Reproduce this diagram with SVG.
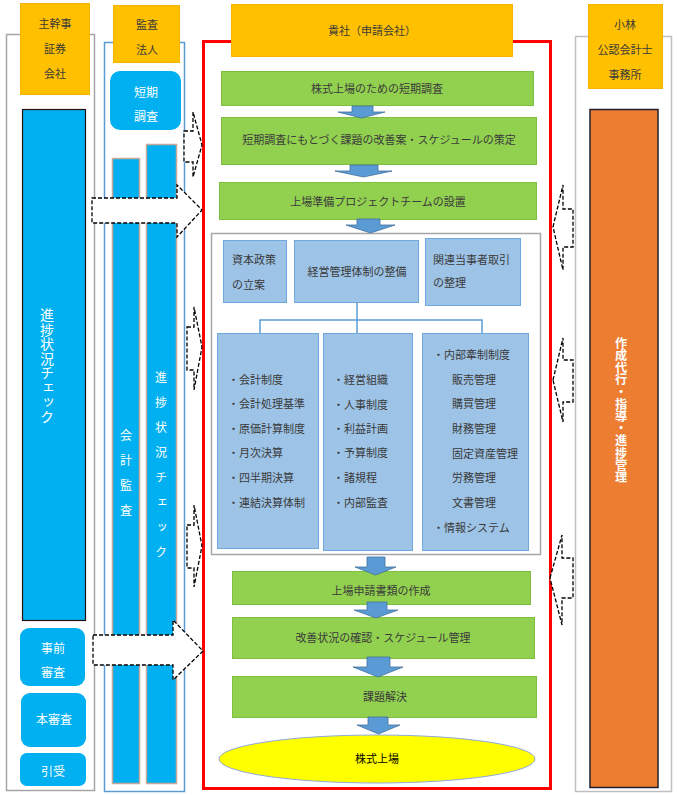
<svg xmlns="http://www.w3.org/2000/svg" width="678" height="795" viewBox="0 0 678 795">
<style>
text{font-family:"Noto Sans CJK JP","Noto Sans",sans-serif;font-size:11px;fill:#3a3a3a}
.c{text-anchor:middle}
.w{fill:#ffffff}
.vt{writing-mode:vertical-rl;text-orientation:mixed}
.hdr{fill:#ffc000;stroke:#f4b400;stroke-width:1}
.blue{fill:#00b0f0}
.grn{fill:#92d050;stroke:#7fbf3f;stroke-width:1}
.lb{fill:#9dc3e6;stroke:#6fa8dc;stroke-width:1}
.bar{fill:#00b0f0;stroke:#c9a79b;stroke-width:1.5}
.dash{fill:#ffffff;stroke:#000000;stroke-width:1.3;stroke-dasharray:4 2}
.dn{fill:#5b9bd5;stroke:#41719c;stroke-width:0.8}
.v12{font-size:12px}
.v14{font-size:14px}
.vb{font-size:12.2px;font-weight:bold}
</style>
<rect width="678" height="795" fill="#ffffff"/>

<!-- Left column: 主幹事証券会社 -->
<g id="col-left">
<rect x="6.5" y="34.5" width="88" height="756" fill="#ffffff" stroke="#a6a6a6" stroke-width="1.5"/>
<rect class="hdr" x="20.5" y="3.5" width="69" height="91"/>
<text class="c" x="55" y="28">主幹事</text>
<text class="c" x="55" y="53">証券</text>
<text class="c" x="55" y="78">会社</text>
</g>
<g id="left-check">
<rect x="22.5" y="109.5" width="63" height="511" fill="#00b0f0" stroke="#2a0d0d" stroke-width="1.2"/>
<text class="w vt v14" x="47" y="308" letter-spacing="0.5">進捗状況チェック</text>
</g>
<g id="left-pre">
<rect class="blue" x="20" y="628" width="65" height="58" rx="9"/>
<text class="c w v12" x="53" y="653">事前</text>
<text class="c w v12" x="53" y="677">審査</text>
</g>
<g id="left-main">
<rect class="blue" x="21" y="693" width="65" height="54" rx="9"/>
<text class="c w v12" x="54" y="724">本審査</text>
</g>
<g id="left-under">
<rect class="blue" x="20" y="753" width="66" height="33" rx="7"/>
<text class="c w v12" x="53" y="776">引受</text>
</g>

<!-- Middle column: 監査法人 -->
<g id="col-audit">
<rect x="104.5" y="42.5" width="80" height="749" fill="#ffffff" stroke="#5b9bd5" stroke-width="1.5"/>
<rect class="hdr" x="113.5" y="5.5" width="66" height="57"/>
<text class="c" x="147" y="29">監査</text>
<text class="c" x="147" y="54">法人</text>
</g>
<g id="audit-short">
<rect class="blue" x="110" y="71" width="71" height="59" rx="10"/>
<text class="c w v12" x="146" y="97">短期</text>
<text class="c w v12" x="146" y="121">調査</text>
</g>
<g id="audit-bar1">
<rect class="bar" x="112.5" y="158.5" width="27" height="625"/>
<text class="w vt v12" x="126" y="429" letter-spacing="13">会計監査</text>
</g>
<g id="audit-bar2">
<rect class="bar" x="146.5" y="144.5" width="30" height="639"/>
<text class="w vt v12" x="161" y="371" letter-spacing="13">進捗状況チェック</text>
</g>

<!-- Right column: 小林公認会計士事務所 -->
<g id="col-right">
<rect x="575.5" y="36.5" width="96" height="755" fill="#ffffff" stroke="#bfbfbf" stroke-width="1.5"/>
<rect class="hdr" x="588.5" y="4.5" width="74" height="84"/>
<text class="c" x="625" y="29">小林</text>
<text class="c" x="625" y="54">公認会計士</text>
<text class="c" x="625" y="79">事務所</text>
</g>
<g id="right-bar">
<rect x="590" y="109.5" width="68" height="678" fill="#ed7d31" stroke="#1f1f2e" stroke-width="1.5"/>
<text class="w vt vb" x="621" y="337">作成代行・指導・進捗管理</text>
</g>

<!-- Centre: 貴社（申請会社） -->
<g id="col-company">
<rect x="203.5" y="41.5" width="347" height="747" fill="#ffffff" stroke="#ff0000" stroke-width="3"/>
<rect class="hdr" x="231.5" y="4.5" width="281" height="52"/>
<text class="c" x="372" y="35">貴社（申請会社）</text>
</g>
<g id="step1">
<rect class="grn" x="221.5" y="71.5" width="312" height="34"/>
<text class="c" x="377" y="93">株式上場のための短期調査</text>
</g>
<g id="step2">
<rect class="grn" x="221.5" y="117.5" width="315" height="47"/>
<text class="c" x="379" y="144">短期調査にもとづく課題の改善案・スケジュールの策定</text>
</g>
<g id="step3">
<rect class="grn" x="219.5" y="182.5" width="317" height="37"/>
<text class="c" x="378" y="206">上場準備プロジェクトチームの設置</text>
</g>
<g id="project-box">
<rect x="211.5" y="233.5" width="329" height="321" fill="#ffffff" stroke="#a6a6a6" stroke-width="1.5"/>
</g>
<g id="capital">
<rect class="lb" x="223.5" y="240.5" width="63" height="62"/>
<text x="232" y="264">資本政策</text>
<text x="232" y="289">の立案</text>
</g>
<g id="mgmt">
<rect class="lb" x="294.5" y="240.5" width="124" height="62"/>
<text class="c" x="357" y="276">経営管理体制の整備</text>
</g>
<g id="related">
<rect class="lb" x="425.5" y="238.5" width="95" height="67"/>
<text x="433" y="264">関連当事者取引</text>
<text x="433" y="287">の整理</text>
</g>
<g id="accounting">
<rect class="lb" x="217.5" y="333.5" width="101" height="215"/>
<text x="228" y="384">・会計制度</text>
<text x="228" y="408">・会計処理基準</text>
<text x="228" y="433">・原価計算制度</text>
<text x="228" y="457">・月次決算</text>
<text x="228" y="482">・四半期決算</text>
<text x="228" y="507">・連結決算体制</text>
</g>
<g id="organization">
<rect class="lb" x="323.5" y="333.5" width="89" height="217"/>
<text x="333" y="384">・経営組織</text>
<text x="333" y="409">・人事制度</text>
<text x="333" y="433">・利益計画</text>
<text x="333" y="457">・予算制度</text>
<text x="333" y="482">・諸規程</text>
<text x="333" y="507">・内部監査</text>
</g>
<g id="internal">
<rect class="lb" x="422.5" y="333.5" width="106" height="217"/>
<text x="433" y="359">・内部牽制制度</text>
<text x="452" y="384">販売管理</text>
<text x="452" y="408">購買管理</text>
<text x="452" y="433">財務管理</text>
<text x="452" y="458">固定資産管理</text>
<text x="452" y="482">労務管理</text>
<text x="452" y="507">文書管理</text>
<text x="433" y="532">・情報システム</text>
</g>
<g id="step4">
<rect class="grn" x="232.5" y="571.5" width="298" height="33"/>
<text class="c" x="381" y="595">上場申請書類の作成</text>
</g>
<g id="step5">
<rect class="grn" x="232.5" y="617.5" width="302" height="41"/>
<text class="c" x="383" y="642">改善状況の確認・スケジュール管理</text>
</g>
<g id="step6">
<rect class="grn" x="232.5" y="676.5" width="304" height="41"/>
<text class="c" x="385" y="701">課題解決</text>
</g>
<g id="listing">
<ellipse cx="377" cy="759" rx="158" ry="24" fill="#ffff00" stroke="#8ea9db" stroke-width="1"/>
<text class="c" x="377" y="763" style="fill:#000000">株式上場</text>
</g>

<!-- Connectors -->
<g id="connectors">
<g fill="none" stroke="#5b9bd5" stroke-width="1.5">
<path d="M357 302.5V333M260 333V320H482V333"/>
</g>
<g>
<polygon class="dn" points="352,106 373,106 373,112 385,112 361.5,118 338,112 352,112"/>
<polygon class="dn" points="350,165 378,165 378,171 392,171 363.5,177 335,171 350,171"/>
<polygon class="dn" points="357,219 380,219 380,225 395,225 370.5,233 346,225 357,225"/>
<polygon class="dn" points="367,557 385,557 385,567 396,567 375.5,575 355,567 367,567"/>
<polygon class="dn" points="367,602 387,602 387,610 398,610 376,618 354,610 367,610"/>
<polygon class="dn" points="367,657 390,657 390,667 403,667 378,677 353,667 367,667"/>
<polygon class="dn" points="368,717 388,717 388,725 400,725 378.5,734 357,725 368,725"/>
</g>
<g>
<polygon class="dash" points="184,131 193,131 193,112 202,145 193,177 193,162 184,162"/>
<polygon class="dash" points="92,198 177,198 177,185 202,210 177,237 177,223 92,223"/>
<polygon class="dash" points="187,327 194,327 194,307 202,347 194,390 194,370 187,370"/>
<polygon class="dash" points="187,525 194,525 194,505 202,546 194,587 194,568 187,568"/>
<polygon class="dash" points="93,635 173,635 173,620 203,651 173,680 173,665 93,665"/>
<polygon class="dash" points="553,227 563,185 563,209 573,209 573,247 563,247 563,270"/>
<polygon class="dash" points="553,380 563,338 563,360 573,360 573,402 563,402 563,422"/>
<polygon class="dash" points="550,578 562,535 562,558 573,558 573,598 562,598 562,625"/>
</g>
</g>
</svg>
